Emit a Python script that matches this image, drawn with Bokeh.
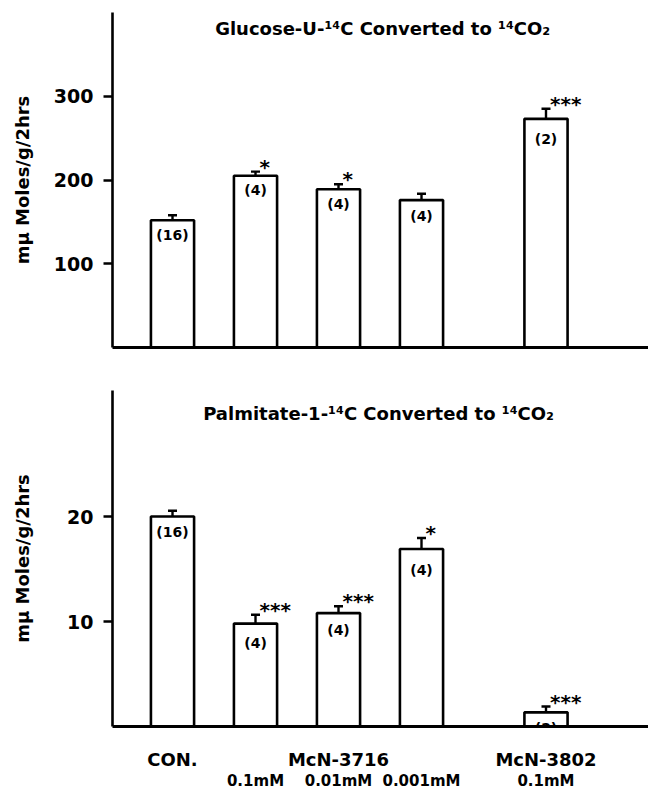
from bokeh.plotting import figure
from bokeh.layouts import column
from bokeh.models import ColumnDataSource, Whisker, TeeHead, FixedTicker, Range1d, LinearAxis
from bokeh.core.properties import value
from bokeh.embed import file_html
from bokeh.resources import INLINE

# ---- data ----
groups = ["CON.", "McN-3716", "McN-3716", "McN-3716", "McN-3802"]
doses = ["", "0.1mM", "0.01mM", "0.001mM", "0.1mM"]
n_counts = ["(16)", "(4)", "(4)", "(4)", "(2)"]

glucose_mean = [152, 205, 189, 176, 273]
glucose_sem = [6, 5, 6, 7.5, 12]
glucose_sig = ["", "*", "*", "", "***"]

palm_mean = [20.0, 9.8, 10.8, 16.9, 1.35]
palm_sem = [0.55, 0.85, 0.65, 1.05, 0.55]
palm_sig = ["", "***", "***", "*", "***"]

glucose_ticks = [100, 200, 300]
palm_ticks = [10, 20]

y_label = "mμ Moles/g/2hrs"
glucose_title = "Glucose-U-\u00b9\u2074C  Converted to \u00b9\u2074CO\u2082"
palm_title = "Palmitate-1-\u00b9\u2074C  Converted to \u00b9\u2074CO\u2082"

# ---- layout ----
XPOS = [0, 1, 2, 3, 4.5]
FONT = "DejaVu Sans"
X0, X1 = -0.723, 5.735


def panel(means, sems, sigs, ticks, ymax, title, title_xy, frame_h, b_top, b_bottom,
          label_standoff):
    p = figure(frame_width=536, frame_height=frame_h,
               x_range=Range1d(X0, X1), y_range=Range1d(0, ymax),
               output_backend="svg", toolbar_location=None,
               min_border_left=112, min_border_right=0,
               min_border_top=b_top, min_border_bottom=b_bottom)
    p.outline_line_color = None
    p.grid.visible = False
    p.background_fill_color = "white"

    src = ColumnDataSource(dict(
        x=XPOS, top=means,
        upper=[m + s for m, s in zip(means, sems)],
        lower=[m - s for m, s in zip(means, sems)],
        n=n_counts, sig=sigs))

    p.vbar(x="x", top="top", bottom=0, width=0.52, source=src,
           fill_color="white", line_color="black", line_width=2.6)

    tee = dict(size=9, line_width=2.4, line_color="black")
    p.add_layout(Whisker(source=src, base="x", upper="upper", lower="lower",
                         line_width=2.4, line_color="black",
                         upper_head=TeeHead(**tee), lower_head=TeeHead(**tee)))

    p.text(x="x", y="lower", text="n", source=src, text_align="center",
           text_baseline="top", y_offset=2, text_font=value(FONT),
           text_font_style="bold", text_font_size="14px", text_color="black")
    p.text(x="x", y="upper", text="sig", source=src, text_align="left",
           text_baseline="alphabetic", x_offset=4, y_offset=-5,
           text_font=value(FONT), text_font_style="bold",
           text_font_size="20px", text_color="black")

    p.text(x=[title_xy[0]], y=[title_xy[1]], text=[title], text_align="center",
           text_baseline="middle", text_font=value(FONT),
           text_font_style="bold", text_font_size="18px", text_color="black")

    # y axis
    ya = p.yaxis[0]
    ya.ticker = FixedTicker(ticks=ticks)
    ya.minor_tick_line_color = None
    ya.major_tick_out = 9
    ya.major_tick_in = 0
    ya.major_tick_line_width = 2.4
    ya.axis_line_width = 2.6
    ya.major_label_standoff = 10
    ya.major_label_text_font = FONT
    ya.major_label_text_font_style = "bold"
    ya.major_label_text_font_size = "19px"
    ya.major_label_text_color = "black"
    ya.axis_label = y_label
    ya.axis_label_text_font = FONT
    ya.axis_label_text_font_style = "bold"
    ya.axis_label_text_font_size = "18px"
    ya.axis_label_text_color = "black"
    ya.axis_label_standoff = label_standoff

    # x axis: plain line
    xa = p.xaxis[0]
    xa.ticker = FixedTicker(ticks=[])
    xa.major_tick_line_color = None
    xa.minor_tick_line_color = None
    xa.major_label_text_font_size = "0px"
    xa.axis_line_width = 3
    return p


p1 = panel(glucose_mean, glucose_sem, glucose_sig, glucose_ticks, 400,
           glucose_title, (2.57, 381), 335, 12, 25, 18)
p2 = panel(palm_mean, palm_sem, palm_sig, palm_ticks, 32,
           palm_title, (2.52, 29.8), 336, 18, 72, 31)

# group labels (first row) on the main x axis of the lower panel
group_pos = {}
for xp, g in zip(XPOS, groups):
    group_pos.setdefault(g, []).append(xp)
g_ticks = [sum(v) / len(v) for v in group_pos.values()]
xa = p2.xaxis[0]
xa.ticker = FixedTicker(ticks=g_ticks)
xa.major_label_overrides = {t: g for t, g in zip(g_ticks, group_pos.keys())}
xa.major_label_standoff = 16
xa.major_label_text_font = FONT
xa.major_label_text_font_style = "bold"
xa.major_label_text_font_size = "18px"
xa.major_label_text_color = "black"

# dose labels (second row) on an extra axis below
d_ticks = [xp for xp, d in zip(XPOS, doses) if d]
ax2 = LinearAxis(ticker=FixedTicker(ticks=d_ticks),
                 major_label_overrides={xp: d for xp, d in zip(XPOS, doses) if d},
                 axis_line_color=None, major_tick_line_color=None,
                 minor_tick_line_color=None, major_label_standoff=-7,
                 major_label_text_font=FONT, major_label_text_font_style="bold",
                 major_label_text_font_size="15px", major_label_text_color="black")
p2.add_layout(ax2, "below")

layout = column(p1, p2, spacing=0)
open("out.html", "w").write(file_html(layout, INLINE))
